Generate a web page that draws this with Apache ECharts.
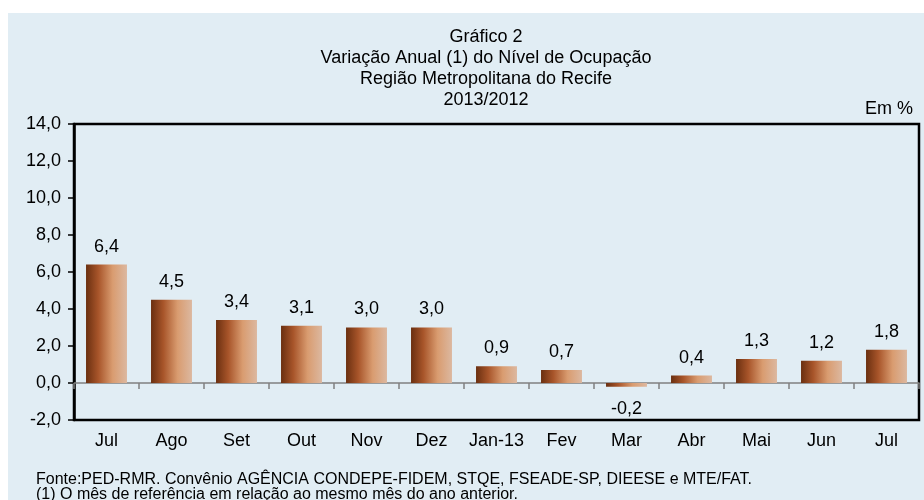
<!DOCTYPE html>
<html>
<head>
<meta charset="utf-8">
<script src="https://cdn.jsdelivr.net/npm/echarts@6/dist/echarts.min.js"></script>
<style>
  html, body { margin: 0; padding: 0; background: #fff; }
  #chart { width: 924px; height: 500px; }
</style>
</head>
<body>
<div id="chart"></div>
<script>
const months = ['Jul', 'Ago', 'Set', 'Out', 'Nov', 'Dez', 'Jan-13', 'Fev', 'Mar', 'Abr', 'Mai', 'Jun', 'Jul'];
const variacao = [6.4, 4.5, 3.4, 3.1, 3.0, 3.0, 0.9, 0.7, -0.2, 0.4, 1.3, 1.2, 1.8];
const titleLines = ['Gráfico 2', 'Variação Anual (1) do Nível de Ocupação', 'Região Metropolitana do Recife', '2013/2012'];
const notes = [
  'Fonte:PED-RMR. Convênio AGÊNCIA CONDEPE-FIDEM, STQE, FSEADE-SP, DIEESE e MTE/FAT.',
  '(1) O mês de referência em relação ao mesmo mês do ano anterior.',
];

const fmt = (v) => Number(v).toFixed(1).replace('.', ',');
const font = 'Liberation Sans, Arial, sans-serif';

const chart = echarts.init(document.getElementById('chart'));

// barras negativas levam o rótulo por baixo
const barData = variacao.map((v) => (v < 0 ? { value: v, label: { position: 'bottom', distance: 13 } } : v));

chart.setOption({
  backgroundColor: '#ffffff',
  textStyle: { fontFamily: font },
  graphic: [
    { type: 'rect', z: -10, shape: { x: 8, y: 13, width: 916, height: 487 }, style: { fill: '#e1edf4' } },
    {
      type: 'text', z: 10,
      style: {
        x: 486, y: 27, text: titleLines.join('\n'), fontSize: 18, fontFamily: font,
        fill: '#000', align: 'center', verticalAlign: 'top', lineHeight: 21,
      },
    },
    {
      type: 'text', z: 10,
      style: { x: 913, y: 100, text: 'Em %', fontSize: 18, fontFamily: font, fill: '#000', align: 'right', verticalAlign: 'top' },
    },
    {
      type: 'text', z: 10,
      style: {
        x: 36, y: 472, text: notes.join('\n'), fontSize: 16, fontFamily: font,
        fill: '#000', verticalAlign: 'top', lineHeight: 15,
      },
    },
  ],
  grid: {
    left: 74, top: 124, right: 5, bottom: 80,
    show: true, borderColor: '#000', borderWidth: 2.5, backgroundColor: 'transparent',
  },
  xAxis: [
    {
      type: 'category', data: months,
      axisLine: { onZero: true, lineStyle: { color: '#808080', width: 1.5 } },
      axisTick: { show: true, inside: false, length: 6, lineStyle: { color: '#808080', width: 1.5 } },
      axisLabel: { show: false },
    },
    {
      type: 'category', data: months, position: 'bottom',
      axisLine: { show: false, onZero: false }, axisTick: { show: false },
      axisLabel: { color: '#000', fontSize: 18, margin: 12, fontFamily: font, interval: 0 },
    },
  ],
  yAxis: {
    type: 'value', min: -2, max: 14, interval: 2,
    splitLine: { show: false },
    axisLine: { show: true, lineStyle: { color: '#000', width: 2.5 } },
    axisTick: { show: true, length: 6, lineStyle: { color: '#000', width: 1.5 } },
    axisLabel: { color: '#000', fontSize: 18, margin: 13, fontFamily: font, formatter: fmt },
  },
  series: [{
    type: 'bar',
    data: barData,
    barWidth: '63%',
    itemStyle: {
      color: new echarts.graphic.LinearGradient(0, 0, 1, 0, [
        { offset: 0, color: '#6a2f10' },
        { offset: 0.3, color: '#a8552a' },
        { offset: 0.65, color: '#d99c70' },
        { offset: 1, color: '#dcb8a0' },
      ]),
    },
    label: {
      show: true,
      position: 'top',
      distance: 9,
      color: '#000',
      fontSize: 18,
      fontFamily: font,
      formatter: (p) => fmt(p.value),
    },
  }],
});
</script>
</body>
</html>
